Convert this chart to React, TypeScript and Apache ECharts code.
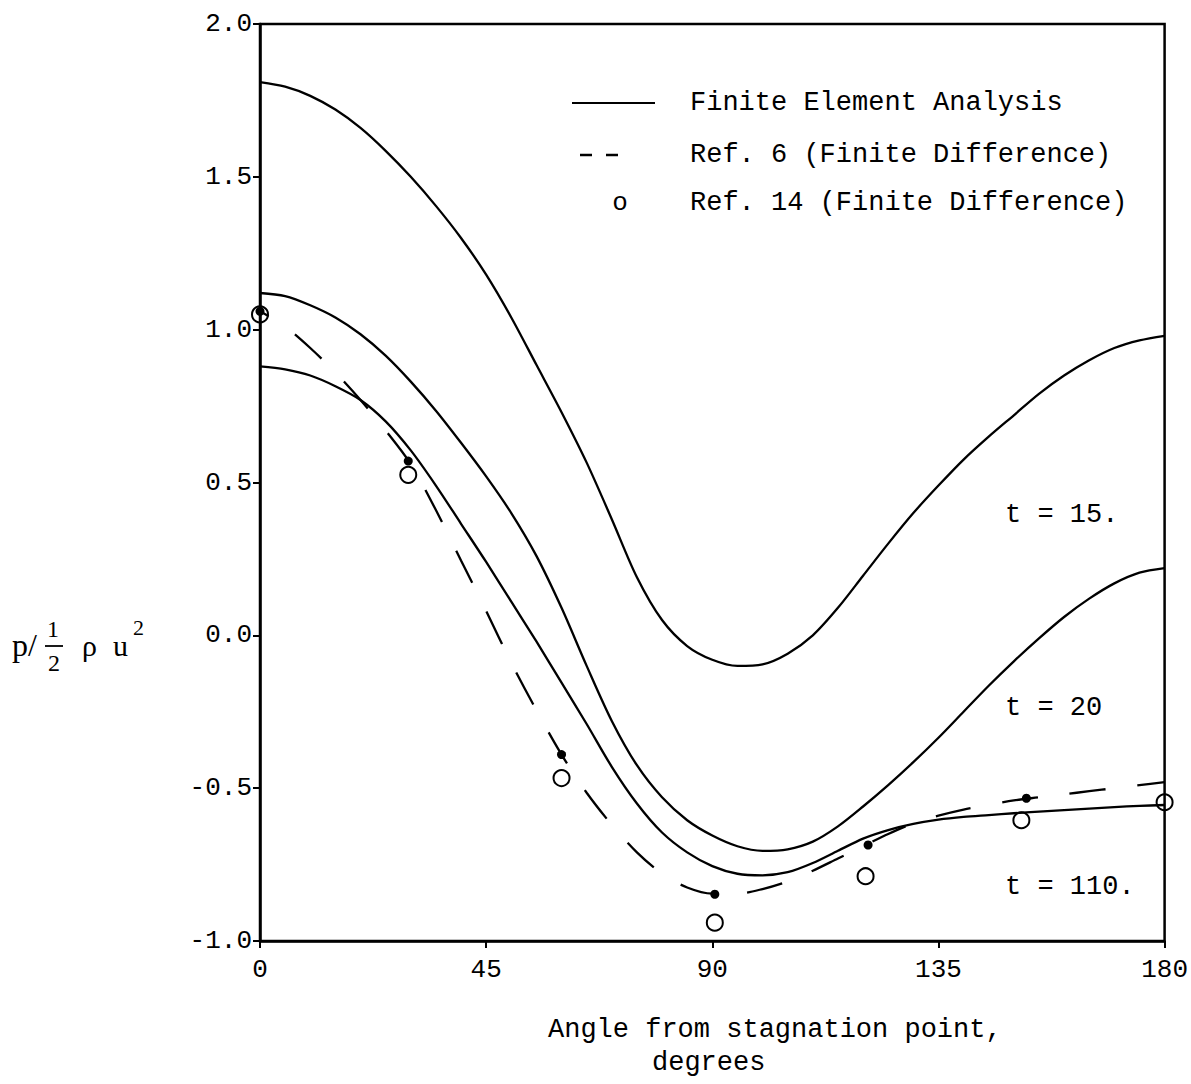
import React, { useEffect, useRef } from "react";
import * as echarts from "echarts";

const angles = [0, 5, 10, 15, 20, 25, 30, 35, 40, 45, 50, 55, 60, 65, 70, 75, 80, 85, 90, 95, 100, 105, 110, 115, 120, 125, 130, 135, 140, 145, 150, 155, 160, 165, 170, 175, 180];

const t15 = [1.81, 1.795, 1.765, 1.72, 1.66, 1.585, 1.50, 1.405, 1.30, 1.18, 1.04, 0.885, 0.73, 0.565, 0.38, 0.19, 0.05, -0.035, -0.08, -0.10, -0.095, -0.06, 0.00, 0.09, 0.195, 0.30, 0.40, 0.49, 0.575, 0.65, 0.72, 0.79, 0.85, 0.90, 0.94, 0.965, 0.98];
const t20 = [1.12, 1.11, 1.08, 1.04, 0.985, 0.915, 0.83, 0.735, 0.63, 0.52, 0.40, 0.26, 0.09, -0.10, -0.28, -0.425, -0.53, -0.605, -0.655, -0.69, -0.705, -0.70, -0.675, -0.625, -0.56, -0.49, -0.415, -0.335, -0.25, -0.165, -0.085, -0.01, 0.06, 0.12, 0.17, 0.205, 0.22];
const t110 = [0.88, 0.87, 0.85, 0.815, 0.77, 0.70, 0.605, 0.49, 0.365, 0.24, 0.11, -0.02, -0.155, -0.29, -0.43, -0.55, -0.645, -0.71, -0.755, -0.78, -0.785, -0.775, -0.745, -0.705, -0.665, -0.637, -0.617, -0.603, -0.594, -0.588, -0.582, -0.577, -0.572, -0.567, -0.562, -0.558, -0.555];
const ref6 = [1.06, 1.01, 0.94, 0.86, 0.77, 0.67, 0.56, 0.41, 0.245, 0.08, -0.09, -0.245, -0.39, -0.515, -0.62, -0.71, -0.78, -0.825, -0.845, -0.845, -0.83, -0.805, -0.77, -0.73, -0.69, -0.65, -0.615, -0.59, -0.57, -0.555, -0.54, -0.53, -0.52, -0.51, -0.50, -0.49, -0.48];

const ref6DotAngles = [0, 29.5, 60, 90.5, 121, 152.5];
const ref6DotValues = [1.06, 0.57, -0.39, -0.847, -0.686, -0.533];

const ref14Angles = [0, 29.5, 60, 90.5, 120.5, 151.5, 180];
const ref14Values = [1.05, 0.525, -0.467, -0.94, -0.788, -0.605, -0.546];

const xTicks = [0, 45, 90, 135, 180];
const yTickLabels = ["-1.0", "-0.5", "0.0", "0.5", "1.0", "1.5", "2.0"];

const legendLabels = ["Finite Element Analysis", "Ref. 6 (Finite Difference)", "Ref. 14 (Finite Difference)"];
const curveLabels = ["t = 15.", "t = 20", "t = 110."];

const pair = (xs: number[], ys: number[]) => xs.map((x, i) => [x, ys[i]]);

export default function App() {
  const ref = useRef<HTMLDivElement>(null);
  useEffect(() => {
    const chart = echarts.init(ref.current!, null, { renderer: "svg" });
    const mono = "'Liberation Mono', 'DejaVu Sans Mono', monospace";
    const serif = "'Liberation Serif', 'DejaVu Serif', serif";
    const black = "#000";
    const solidLine = (name: string, ys: number[]) => ({
      name,
      type: "line",
      data: pair(angles, ys),
      smooth: 0.3,
      showSymbol: false,
      lineStyle: { color: black, width: 2.3 },
      clip: false,
    });
    chart.setOption({
      animation: false,
      backgroundColor: "#fff",
      grid: {
        left: 260,
        right: 22,
        top: 24,
        bottom: 143,
        show: true,
        borderColor: black,
        borderWidth: 2.5,
        backgroundColor: "transparent",
      },
      xAxis: {
        type: "value",
        min: 0,
        max: 180,
        interval: 45,
        axisLine: { show: true, onZero: false, lineStyle: { color: black, width: 2.5 } },
        axisTick: { show: true, inside: false, length: 7, lineStyle: { color: black, width: 2 } },
        axisLabel: {
          color: black,
          fontFamily: mono,
          fontSize: 26,
          margin: 16,
          formatter: (v: number) => (xTicks.includes(v) ? String(v) : ""),
        },
        splitLine: { show: false },
      },
      yAxis: {
        type: "value",
        min: -1,
        max: 2,
        interval: 0.5,
        axisLine: { show: true, onZero: false, lineStyle: { color: black, width: 2.5 } },
        axisTick: { show: true, inside: false, length: 7, lineStyle: { color: black, width: 2 } },
        axisLabel: {
          color: black,
          fontFamily: mono,
          fontSize: 26,
          margin: 8,
          formatter: (v: number) => yTickLabels[Math.round((v + 1) / 0.5)] ?? v.toFixed(1),
        },
        splitLine: { show: false },
      },
      series: [
        solidLine("Finite Element Analysis t = 15", t15),
        solidLine("Finite Element Analysis t = 20", t20),
        solidLine("Finite Element Analysis t = 110", t110),
        {
          name: "Ref. 6 (Finite Difference)",
          type: "line",
          data: pair(angles, ref6),
          smooth: 0.3,
          showSymbol: false,
          lineStyle: { color: black, width: 2.3, type: [36, 32], dashOffset: 26 },
          clip: false,
        },
        {
          name: "Ref. 6 points",
          type: "scatter",
          data: pair(ref6DotAngles, ref6DotValues),
          symbol: "circle",
          symbolSize: 9,
          itemStyle: { color: black, opacity: 1 },
          clip: false,
          z: 4,
        },
        {
          name: "Ref. 14 (Finite Difference)",
          type: "scatter",
          data: pair(ref14Angles, ref14Values),
          symbol: "circle",
          symbolSize: 16,
          itemStyle: { color: "rgba(0,0,0,0)", borderColor: black, borderWidth: 2, opacity: 1 },
          clip: false,
          z: 3,
        },
      ],
      graphic: [
        { type: "line", shape: { x1: 572, y1: 103, x2: 655, y2: 103 }, style: { stroke: black, lineWidth: 2 } },
        { type: "line", shape: { x1: 580, y1: 155, x2: 592, y2: 155 }, style: { stroke: black, lineWidth: 2.5 } },
        { type: "line", shape: { x1: 606, y1: 155, x2: 618, y2: 155 }, style: { stroke: black, lineWidth: 2.5 } },
        { type: "text", x: 620, y: 203, style: { text: "o", font: `26px ${mono}`, fill: black, textAlign: "center", textVerticalAlign: "middle" } },
        ...legendLabels.map((t, i) => ({
          type: "text",
          x: 690,
          y: [103, 155, 203][i],
          style: { text: t, font: `27px ${mono}`, fill: black, textVerticalAlign: "middle" },
        })),
        ...curveLabels.map((t, i) => ({
          type: "text",
          x: 1005,
          y: [515, 708, 887][i],
          style: { text: t, font: `27px ${mono}`, fill: black, textVerticalAlign: "middle" },
        })),
        { type: "text", x: 548, y: 1030, style: { text: "Angle from stagnation point,", font: `27px ${mono}`, fill: black, textVerticalAlign: "middle" } },
        { type: "text", x: 652, y: 1063, style: { text: "degrees", font: `27px ${mono}`, fill: black, textVerticalAlign: "middle" } },
        { type: "text", x: 12, y: 645, style: { text: "p/", font: `32px ${serif}`, fill: black, textVerticalAlign: "middle" } },
        { type: "text", x: 53, y: 629, style: { text: "1", font: `24px ${serif}`, fill: black, textAlign: "center", textVerticalAlign: "middle" } },
        { type: "line", shape: { x1: 45, y1: 646, x2: 63, y2: 646 }, style: { stroke: black, lineWidth: 1.8 } },
        { type: "text", x: 54, y: 663, style: { text: "2", font: `24px ${serif}`, fill: black, textAlign: "center", textVerticalAlign: "middle" } },
        { type: "text", x: 82, y: 645, style: { text: "ρ", font: `30px ${serif}`, fill: black, textVerticalAlign: "middle" } },
        { type: "text", x: 113, y: 645, style: { text: "u", font: `30px ${serif}`, fill: black, textVerticalAlign: "middle" } },
        { type: "text", x: 133, y: 627, style: { text: "2", font: `22px ${serif}`, fill: black, textVerticalAlign: "middle" } },
      ],
    });
    return () => chart.dispose();
  }, []);
  return <div ref={ref} style={{ position: "absolute", left: 0, top: 0, width: 1191, height: 1084 }} />;
}
